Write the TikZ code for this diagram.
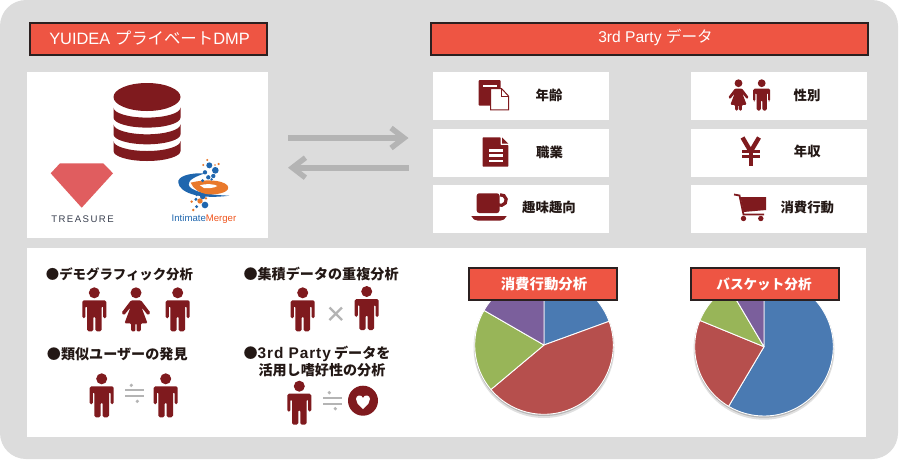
\documentclass[tikz,border=0pt]{standalone}
\usepackage{fontspec}
\setmainfont{Noto Sans CJK JP}
\newfontfamily\lat{Liberation Sans}
\usetikzlibrary{arrows.meta}
\definecolor{bg}{HTML}{DCDCDC}
\definecolor{hdr}{HTML}{EE5543}
\definecolor{hdrb}{HTML}{2B2020}
\definecolor{wine}{HTML}{7F1A1E}
\definecolor{grayi}{HTML}{B4B4B4}
\definecolor{txt}{HTML}{231815}
\definecolor{pblue}{HTML}{4A7AB2}
\definecolor{pred}{HTML}{B64F4D}
\definecolor{pgreen}{HTML}{98B558}
\definecolor{ppurple}{HTML}{7B5F9C}
\definecolor{lgblue}{HTML}{1F66AE}
\definecolor{lgor}{HTML}{E9792B}
\newcommand{\fsz}[1]{\fontsize{#1}{#1}\selectfont}
\newcommand{\piesl}[3]{\filldraw[fill=#3,draw=white,line width=.9pt,line join=round] (0,0) -- (#1:69.3) arc[start angle=#1,end angle=#2,radius=69.3] -- cycle;}
\tikzset{
  x=1pt,y=-1pt,
  panel/.style={fill=white,draw=none},
  hdrbox/.style={fill=hdr,draw=hdrb,line width=2pt},
  hdrtext/.style={text=white,inner sep=0pt,anchor=center},
  label/.style={text=txt,inner sep=0pt,font=\fsz{13.4}\bfseries,anchor=center},
  blabel/.style={text=txt,inner sep=0pt,font=\fsz{14.1}\bfseries,anchor=west},
  bigarrow/.style={draw=grayi,line width=5.6pt,-{Straight Barb[length=13pt,width=20pt,line width=5.4pt]}},
  man/.pic={
    \fill[wine] (0,5.5) circle[radius=5.5];
    \fill[wine,rounded corners=1.6pt] (-12,31) -- (-12,13) -- (12,13) -- (12,31) -- (8.9,31) -- (8.9,18.5) -- (7.3,18.5) -- (7.3,44) -- (1,44) -- (1,29) -- (-1,29) -- (-1,44) -- (-7.3,44) -- (-7.3,18.5) -- (-8.9,18.5) -- (-8.9,31) -- cycle;
  },
  woman/.pic={
    \fill[wine] (0,5.5) circle[radius=5.5];
    \fill[wine,rounded corners=1.2pt] (-5,13) -- (5,13) -- (14.5,25.5) -- (12,28) -- (5.5,20) -- (11.5,36) -- (4.8,36) -- (4.8,44) -- (.6,44) -- (.6,36) -- (-.6,36) -- (-.6,44) -- (-4.8,44) -- (-4.8,36) -- (-11.5,36) -- (-5.5,20) -- (-12,28) -- (-14.5,25.5) -- cycle;
  },
  approx/.pic={
    \fill[grayi] (-9.3,-4) rectangle (9.3,-2);
    \fill[grayi] (-9.3,2) rectangle (9.3,4);
    \fill[grayi] (-3,-8) circle[radius=1.8];
    \fill[grayi] (3,8) circle[radius=1.8];
  },
}
\begin{document}
\begin{tikzpicture}
\useasboundingbox (0,0) rectangle (900,459);
% background
\fill[bg,rounded corners=26pt] (0,0) rectangle (898,459);

% headers
\draw[hdrbox] (29.5,22.5) rectangle (266.5,54.5);
\node[hdrtext,font=\fsz{16.4}] (h1) at (149.5,38.5) {\lat YUIDEA\ \rmfamily プライベート\lat DMP};
\draw[hdrbox] (430.5,22.5) rectangle (867.5,54.5);
\node[hdrtext,font=\fsz{15.6}] (h2) at (655.5,37.5) {\lat 3rd Party\ \rmfamily データ};

% white panels
\fill[panel] (27,72) rectangle (268,238);
\fill[panel] (433,72) rectangle (609,120);
\fill[panel] (433,129) rectangle (609,177);
\fill[panel] (433,185) rectangle (609,233);
\fill[panel] (691,72) rectangle (867,120);
\fill[panel] (691,129) rectangle (867,177);
\fill[panel] (691,185) rectangle (867,233);
\fill[panel] (27,248) rectangle (866,437);

% database
\begin{scope}[wine]
\foreach \yb in {117.6,134.3,151}{
  \fill (113.5,\yb-10) -- (113.5,\yb) arc[start angle=180,end angle=360,x radius=33.5pt,y radius=10pt] -- (180.5,\yb-10) arc[start angle=360,end angle=180,x radius=33.5pt,y radius=10pt] -- cycle;
}
\fill (147,97) ellipse[x radius=33.5pt,y radius=14pt];
\end{scope}

% treasure logo
\fill[fill={rgb,255:red,224;green,93;blue,95}] (50.7,173.3) -- (60,163.3) -- (103.3,163.3) -- (113,173.3) -- (81.7,207.7) -- cycle;
\node[inner sep=0pt,text={rgb,255:red,58;green,64;blue,80},font=\fsz{9.6}\lat\addfontfeature{LetterSpace=15}] (treasure) at (82.5,219.3) {TREASURE};

% intimate merger logo
\begin{scope}[shift={(20,60)},x=.3333pt,y=-.3333pt]
\fill[lgblue] (555,340) .. controls (505,338) and (472,350) .. (475,368) .. controls (478,395) and (530,420) .. (628,407) .. controls (560,405) and (508,392) .. (506,374) .. controls (505,360) and (525,350) .. (555,340) -- cycle;
\fill[lgor] (512,368) .. controls (550,358) and (605,358) .. (622,376) .. controls (634,392) and (605,405) .. (565,403) .. controls (540,400) and (520,388) .. (512,368) -- cycle;
\fill[white] (540,376) .. controls (555,370) and (585,372) .. (592,378) .. controls (585,384) and (560,386) .. (552,384) -- cycle;
\foreach \a/\b/\r in {568/316/9,586/331/10,555/337/6.5,580/348/6.5,565/352/6.5,548/362/5,575/358/4,548/410/8,528/418/5,555/435/10,530/440/5,530/405/4}
  \fill[lgblue] (\a,\b) circle[radius=\r];
\foreach \a/\b/\r in {562/300/3.5,596/312/3.5,550/315/3.5,585/315/2.5,540/423/8,515/425/4,520/450/4,558/415/4}
  \fill[lgor] (\a,\b) circle[radius=\r];
\end{scope}
\node[inner sep=0pt,font=\fsz{9.6}\lat] (merger) at (204,218.7) {\textcolor{lgblue}{Intimate}\textcolor{lgor!70!red}{Merger}};

% arrows
\coordinate (a1s) at (288,138);
\coordinate (a1e) at (408.5,138);
\coordinate (a2s) at (408.5,167.7);
\coordinate (a2e) at (288,167.7);
\draw[bigarrow] (a1s) -- (a1e);
\draw[bigarrow] (a2s) -- (a2e);

% right column icons
% documents
\fill[wine,rounded corners=1pt] (478.7,80) rectangle (500.7,105.7);
\fill[white] (483,84.5) rectangle (496.5,86.5);
\filldraw[fill=white,draw=wine,line width=1pt] (490.5,88.5) -- (501.5,88.5) -- (508.5,96) -- (508.5,109.8) -- (490.5,109.8) -- cycle;
\draw[wine,line width=1pt] (501.5,88.5) -- (501.5,96) -- (508.5,96);
\node[label] (t1) at (549,95) {年齢};
% file
\fill[wine,rounded corners=.6pt] (482.7,137.3) -- (500.5,137.3) -- (500.5,145) -- (508.3,145) -- (508.3,166.7) -- (482.7,166.7) -- cycle;
\fill[wine] (502,137.3) -- (508.3,143.6) -- (502,143.6) -- cycle;
\fill[white] (489,149) rectangle (502.5,151.5);
\fill[white] (489,154.3) rectangle (502.5,156.8);
\fill[white] (489,159.5) rectangle (502.5,162);
\node[label] (t2) at (549.5,152) {職業};
% cup
\draw[wine,line width=3.2pt] (500,194.8) arc[start angle=100,end angle=-110,radius=5.3pt];
\fill[wine,rounded corners=2.5pt] (476.7,193.3) -- (499.5,193.3) -- (499.5,213) -- (476.7,213) -- cycle;
\fill[wine] (471.3,216) -- (506.7,216) .. controls (505.5,219) and (503,220.7) .. (500,220.7) -- (478,220.7) .. controls (475,220.7) and (472.5,219) .. (471.3,216) -- cycle;
\node[label] (t3) at (549,207.7) {趣味趣向};
% couple
\pic[scale=.71] at (738.5,79.3) {woman};
\pic[scale=.71] at (761.7,79.3) {man};
\node[label] (t4) at (807,95) {性別};
% yen
\begin{scope}[wine]
\draw[line width=4.4pt] (742.5,137.5) -- (750.7,151.5) -- (759,137.5);
\draw[line width=4.4pt] (750.7,150) -- (750.7,166);
\fill (742,149.8) rectangle (760,152.6);
\fill (742,155.4) rectangle (760,158.2);
\end{scope}
\node[label] (t5) at (807.3,151.7) {年収};
% cart
\draw[wine,line width=1.8pt] (734,194.5) -- (739.5,195.5) -- (743.5,214.5) -- (764,214.5);
\fill[wine] (740.5,197) -- (766,197) -- (766,210) -- (743.5,212) -- cycle;
\fill[wine] (743.5,218.5) circle[radius=2.7];
\fill[wine] (760.8,218.5) circle[radius=2.7];
\node[label] (t6) at (807.3,207.7) {消費行動};

% lower left
\node[blabel,font=\fsz{13.4}\bfseries] (d1) at (45.7,274) {●デモグラフィック分析};
\pic at (94.3,287.3) {man};
\pic at (136,287.3) {woman};
\pic at (177.7,287.3) {man};
\node[blabel] (d2) at (46.7,354) {●類似ユーザーの発見};
\pic at (101.7,373.3) {man};
\pic at (134.3,393.3) {approx};
\pic at (165.7,373.3) {man};
\node[blabel] (d3) at (243.3,274) {●集積データの重複分析};
\pic at (302.7,287.3) {man};
\draw[grayi,line width=2.2pt] (329.5,307.5) -- (342,320);
\draw[grayi,line width=2.2pt] (342,307.5) -- (329.5,320);
\pic at (366.7,286) {man};
\node[blabel] (d4) at (243.3,354) {●{\lat\bfseries\fsz{15.4}\addfontfeature{LetterSpace=6}3rd Party} データを};
\node[blabel] (d5) at (258.3,370) {活用し嗜好性の分析};
\pic at (299.3,380.7) {man};
\pic at (332.3,400.7) {approx};
\fill[wine] (363,400.7) circle[radius=15];
\fill[white] (363,409) .. controls (358,404.5) and (356,402.5) .. (356,399) .. controls (356,395) and (361.5,394) .. (363,398) .. controls (364.5,394) and (370,395) .. (370,399) .. controls (370,402.5) and (368,404.5) .. (363,409) -- cycle;

% pies
\begin{scope}[shift={(544,345)},x=1pt,y=1pt]
\fill[black,opacity=.12] (0,-2.5) circle[radius=70.5];
\fill[black,opacity=.18] (0,-1.2) circle[radius=69.8];
\piesl{90}{20}{pblue}
\piesl{20}{-140}{pred}
\piesl{220}{150}{pgreen}
\piesl{150}{90}{ppurple}
\end{scope}
\begin{scope}[shift={(764,346.7)},x=1pt,y=1pt]
\fill[black,opacity=.12] (0,-2.5) circle[radius=70.5];
\fill[black,opacity=.18] (0,-1.2) circle[radius=69.8];
\piesl{90}{-120.7}{pblue}
\piesl{239.3}{157.7}{pred}
\piesl{157.7}{120.6}{pgreen}
\piesl{120.6}{90}{ppurple}
\end{scope}
\draw[hdrbox] (468.5,267.5) rectangle (616.5,299.5);
\node[hdrtext,font=\fsz{14.4}\bfseries] (p1) at (544,284) {消費行動分析};
\draw[hdrbox] (690.5,267.5) rectangle (838.5,299.5);
\node[hdrtext,font=\fsz{13.6}\bfseries] (p2) at (764,284) {バスケット分析};
\end{tikzpicture}
\end{document}
